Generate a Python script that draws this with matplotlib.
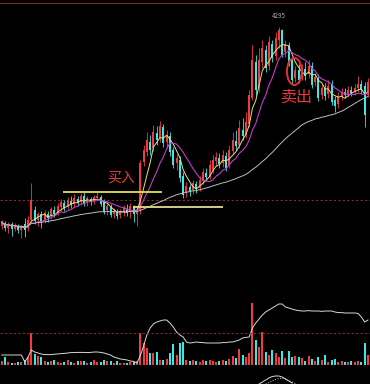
import matplotlib.pyplot as plt
import numpy as np
import pandas as pd
from matplotlib.patches import Ellipse

plt.rcParams['font.family'] = ['Noto Sans CJK SC', 'DejaVu Sans']

# 日K数据
opens = [2305, 2335, 2285, 2325, 2275, 2305, 2265, 2325, 2285, 2365,
         2465, 2365, 2425, 2365, 2425, 2405, 2465, 2435, 2495, 2535,
         2495, 2555, 2525, 2575, 2545, 2605, 2535, 2575, 2555, 2585,
         2595, 2545, 2465, 2495, 2425, 2445, 2415, 2445, 2475, 2445,
         2495, 2425, 2465, 2945, 3045, 3145, 3085, 3235, 3185, 3295,
         3145, 3205, 3065, 2935, 2965, 2805, 2635, 2695, 2665, 2725,
         2685, 2755, 2835, 2805, 2865, 2955, 2985, 2935, 3005, 2915,
         3055, 3155, 3115, 3265, 3215, 3325, 3585, 3945, 3685, 3945,
         4065, 3905, 4125, 4005, 4165, 4265, 4045, 4105, 3965, 3785,
         3865, 3785, 3875, 3825, 3905, 3745, 3785, 3615, 3685, 3625,
         3725, 3565, 3525, 3605, 3645, 3625, 3665, 3645, 3685, 3725,
         3705, 3615]
closes = [2345, 2285, 2325, 2275, 2315, 2265, 2305, 2265, 2365, 2565,
          2355, 2425, 2345, 2435, 2385, 2475, 2425, 2505, 2545, 2485,
          2565, 2515, 2585, 2535, 2605, 2525, 2585, 2545, 2595, 2605,
          2525, 2445, 2505, 2415, 2455, 2405, 2455, 2485, 2435, 2505,
          2425, 2465, 2935, 3065, 3165, 3065, 3245, 3165, 3305, 3135,
          3215, 3045, 2915, 2985, 2785, 2615, 2705, 2645, 2735, 2675,
          2765, 2845, 2795, 2915, 2965, 2995, 2925, 3015, 2885, 3065,
          3165, 3105, 3285, 3205, 3345, 3615, 3965, 3665, 3965, 4085,
          3885, 4145, 3985, 4185, 4265, 4015, 4125, 3945, 3765, 3865,
          3765, 3885, 3805, 3905, 3715, 3795, 3585, 3685, 3605, 3705,
          3545, 3505, 3605, 3645, 3615, 3665, 3635, 3685, 3725, 3665,
          3415, 3745]
highs = [2365, 2355, 2345, 2345, 2335, 2325, 2315, 2385, 2405, 2735,
         2505, 2445, 2455, 2465, 2455, 2495, 2505, 2535, 2575, 2565,
         2595, 2605, 2625, 2605, 2635, 2645, 2605, 2595, 2615, 2655,
         2615, 2575, 2535, 2525, 2485, 2475, 2475, 2515, 2525, 2535,
         2515, 2485, 2965, 3115, 3245, 3215, 3315, 3305, 3355, 3325,
         3265, 3245, 3095, 3025, 3005, 2845, 2745, 2725, 2765, 2755,
         2805, 2885, 2885, 2965, 3015, 3045, 3035, 3065, 3045, 3115,
         3245, 3265, 3365, 3385, 3445, 3665, 4115, 4015, 4085, 4165,
         4115, 4205, 4165, 4245, 4295, 4275, 4165, 4145, 3995, 3905,
         3925, 3925, 3945, 3965, 3945, 3835, 3825, 3725, 3735, 3765,
         3765, 3605, 3645, 3685, 3685, 3705, 3705, 3725, 3805, 3765,
         3745, 3785]
lows = [2275, 2255, 2235, 2205, 2255, 2235, 2185, 2195, 2255, 2345,
        2325, 2305, 2285, 2335, 2345, 2375, 2395, 2415, 2455, 2455,
        2475, 2485, 2495, 2505, 2515, 2505, 2505, 2515, 2525, 2555,
        2505, 2425, 2415, 2395, 2385, 2375, 2385, 2405, 2405, 2385,
        2345, 2305, 2425, 2905, 3005, 3015, 3055, 3115, 3145, 3095,
        3085, 3005, 2885, 2865, 2745, 2585, 2595, 2605, 2625, 2635,
        2655, 2725, 2755, 2775, 2835, 2905, 2885, 2895, 2855, 2885,
        3025, 3065, 3085, 3165, 3185, 3295, 3565, 3615, 3645, 3885,
        3845, 3865, 3945, 3965, 4085, 3995, 3995, 3905, 3725, 3745,
        3735, 3765, 3765, 3785, 3685, 3705, 3555, 3575, 3565, 3585,
        3515, 3445, 3485, 3565, 3585, 3595, 3605, 3615, 3645, 3625,
        3295, 3595]

# 成交量
volumes = [20, 40, 15, 10, 10, 15, 15, 25, 40, 160,
           55, 45, 40, 20, 15, 20, 25, 15, 10, 15,
           25, 15, 10, 20, 20, 20, 10, 15, 25, 15,
           15, 25, 20, 20, 10, 20, 10, 10, 10, 15,
           15, 20, 160, 110, 85, 60, 60, 65, 25, 25,
           30, 60, 105, 50, 110, 115, 25, 20, 25, 20,
           15, 25, 20, 25, 20, 15, 20, 25, 20, 30,
           45, 35, 80, 50, 40, 60, 310, 125, 90, 165,
           65, 50, 75, 60, 40, 70, 35, 70, 40, 45,
           40, 35, 20, 45, 30, 20, 40, 25, 50, 15,
           25, 30, 15, 20, 15, 15, 20, 15, 20, 15,
           110, 50]
vol_line = [50, 50, 50, 50, 50, 50, 50, 15, 40, 75,
            65, 60, 55, 52, 52, 52, 54, 55, 57, 58,
            60, 62, 62, 63, 63, 63, 62, 63, 65, 65,
            63, 60, 55, 50, 40, 35, 30, 28, 25, 20,
            18, 10, 45, 95, 150, 185, 205, 215, 220, 225,
            225, 210, 190, 165, 150, 140, 115, 110, 112, 115,
            113, 112, 110, 110, 110, 110, 110, 112, 112, 115,
            115, 120, 125, 135, 138, 140, 185, 210, 230, 250,
            265, 275, 285, 295, 305, 305, 290, 285, 280, 275,
            272, 270, 270, 272, 270, 270, 270, 268, 270, 270,
            270, 265, 262, 262, 260, 260, 260, 260, 258, 240,
            215, 225]

# 底部副图只露出一点
ind_white_start = 78
ind_white = [0, 2, 4, 6, 7.5, 8, 8, 7, 5, 3, 1]
ind_yellow_start = 80
ind_yellow = [0, 1.5, 3, 4.5, 5.5, 6, 5, 3.5, 2, 0.5]

# 手工画的线：价位, 起点, 终点, 颜色
level_lines = [(2645, 18.6, 48.6, '#e6df4c'), (2495, 39.8, 67.1, '#e4dc90')]
ref_price = 2565
ref_vol = 160

df = pd.DataFrame({'open': opens, 'close': closes, 'high': highs,
                   'low': lows, 'vol': volumes})
df['ma5'] = df['close'].rolling(5, min_periods=1).mean()
df['ma10'] = df['close'].rolling(10, min_periods=1).mean()
df['ma50'] = df['close'].rolling(50, min_periods=1).mean()

RED = '#f03c3c'
CYAN = '#3ee6e6'
x = np.arange(len(df))
up = df['close'] >= df['open']
colors = np.where(up, RED, CYAN)

fig = plt.figure(figsize=(3.7, 3.84), dpi=100, facecolor='black')
ax = fig.add_axes([0, 91 / 384, 1, 290 / 384])
ax_vol = fig.add_axes([0, 19 / 384, 1, 72 / 384])
ax_ind = fig.add_axes([0, 0, 1, 19 / 384])

for a in (ax, ax_vol, ax_ind):
    a.set_facecolor('black')
    a.set_xlim(-0.5, 111.62)
    a.set_xticks([])
    a.set_yticks([])
    for s in a.spines.values():
        s.set_visible(False)

ax.spines['top'].set_visible(True)
ax.spines['top'].set_color('#7a2424')
ax.spines['bottom'].set_visible(True)
ax.spines['bottom'].set_color('#7a2424')
ax_vol.spines['bottom'].set_visible(True)
ax_vol.spines['bottom'].set_color('#a82a2a')

# K线
ax.set_ylim(1635, 4535)
ax.vlines(x, df['low'], df['high'], colors=colors, lw=0.6, zorder=2)
body_low = np.minimum(df['open'], df['close'])
body_h = np.maximum((df['close'] - df['open']).abs(), 8)
ax.bar(x, body_h, bottom=body_low, width=0.62, color=colors, linewidth=0, zorder=2)

# 均线
ax.plot(x, df['ma5'], color='#e6e27a', lw=0.7, zorder=3)
ax.plot(x, df['ma10'], color='#c23cc8', lw=0.8, zorder=3)
ax.plot(x, df['ma50'], color='#bdbdbd', lw=0.7, zorder=3)

ax.axhline(ref_price, color='#8b2a2a', lw=0.8, ls=(0, (2, 2)), zorder=1)
for price, x0, x1, c in level_lines:
    ax.hlines(price, x0, x1, color=c, lw=1.3, zorder=4)

imax = int(np.argmax(highs))
ax.annotate(f'{highs[imax]}', xy=(imax, highs[imax]), xytext=(0, 5),
            textcoords='offset points', ha='center', va='bottom',
            fontsize=4.5, color='#a8a8a8')

ax.text(36.2, 2785, '买入', color='#e83a3a', fontsize=10, ha='center', va='center', zorder=5)
ax.text(89.5, 3595, '卖出', color='#e83a3a', fontsize=11.5, ha='center', va='center', zorder=5)
ax.add_patch(Ellipse((88.7, 3850), width=4.5, height=270, fill=False,
                     edgecolor='#e03030', lw=1.4, zorder=5))

# 成交量
ax_vol.set_ylim(0, 360)
ax_vol.bar(x, df['vol'], width=0.62, color=colors, linewidth=0)
ax_vol.plot(x, vol_line, color='#d8d8d8', lw=0.7)
ax_vol.axhline(ref_vol, color='#8b2a2a', lw=0.8, ls=(0, (2, 2)))

# 底部副图
ax_ind.set_ylim(0, 19)
ax_ind.plot(np.arange(ind_white_start, ind_white_start + len(ind_white)), ind_white,
            color='#d8d8d8', lw=0.7)
ax_ind.plot(np.arange(ind_yellow_start, ind_yellow_start + len(ind_yellow)), ind_yellow,
            color='#e6e27a', lw=0.7, ls=':')

fig.savefig('out.png', dpi=100, facecolor='black')
